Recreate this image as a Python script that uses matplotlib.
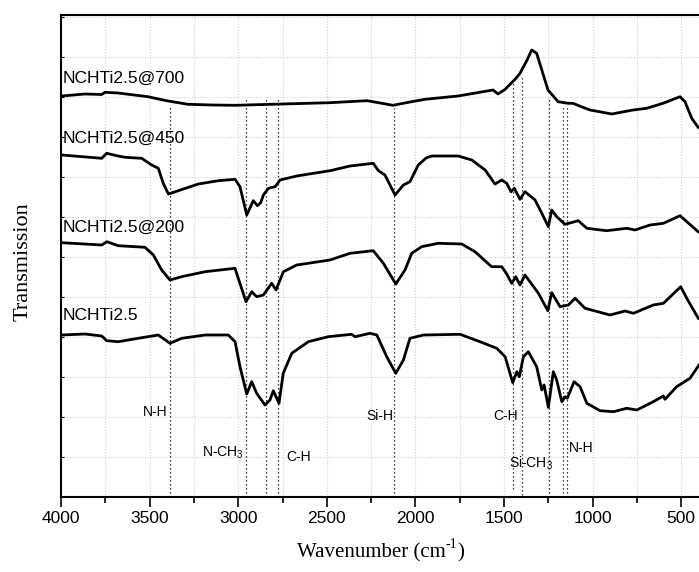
import numpy as np
import matplotlib
matplotlib.use("Agg")
import matplotlib.pyplot as plt
from matplotlib.ticker import MultipleLocator

plt.rcParams['font.family'] = ['Liberation Sans', 'DejaVu Sans']
plt.rcParams['mathtext.fontset'] = 'custom'
plt.rcParams['mathtext.rm'] = 'Liberation Serif'
plt.rcParams['mathtext.sf'] = 'Liberation Sans'

# spectra (wavenumber in cm-1, transmission in arbitrary units)
wn_700 = [3996, 3865, 3770, 3752, 3678, 3509, 3450, 3396, 3283, 3150, 3018, 2482, 2275, 2240, 2127,
          2031, 1946, 1760, 1562, 1534, 1494, 1438, 1410, 1370, 1344, 1316, 1287, 1252, 1195,
          1139, 1111, 1060, 1015, 892, 772, 695, 603, 507, 479, 441, 405]
t_700 = [401, 403, 402.5, 404.7, 404, 400.3, 398, 396, 392.7, 392, 391.7, 394.3, 396.3, 395.3, 391.7,
         395, 397.7, 401, 407, 403, 407.7, 417.7, 423.7, 437, 447, 443.7, 427, 407, 395.3,
         393.7, 393.7, 390, 387, 383, 387, 388.7, 393.7, 400.3, 395.3, 378.7, 369.7]

wn_450 = [3996, 3770, 3742, 3686, 3639, 3545, 3488, 3451, 3423, 3394, 3338, 3225, 3112,
          3018, 2990, 2952, 2915, 2892, 2873, 2858, 2830, 2792, 2764, 2670, 2482, 2369,
          2238, 2209, 2172, 2115, 2068, 2031, 1984, 1940, 1908, 1758, 1682, 1607, 1551, 1513,
          1485, 1461, 1442, 1410, 1382, 1325, 1287, 1250, 1231, 1203, 1156, 1081, 1033,
          921, 808, 761, 676, 601, 507, 405]
t_450 = [342, 338.7, 343.7, 341.3, 339.7, 338.7, 332, 328.7, 313.7, 303, 306.3, 313, 316.3,
         317.7, 310.3, 282, 296.3, 291.3, 294.3, 302, 308.7, 310.3, 317, 321, 326.3, 331,
         333.7, 326.3, 322, 302, 312, 315.3, 332, 339, 341, 341, 337, 327, 313, 317,
         313.7, 305.3, 308.7, 297.7, 305.3, 297, 283.7, 270.3, 287, 280.3, 272.7, 276.3, 268.7,
         266.3, 268.7, 267, 272, 273.7, 281.3, 265.3]

wn_200 = [3996, 3770, 3742, 3677, 3526, 3479, 3432, 3385, 3319, 3187, 3018, 3009, 2956,
          2924, 2896, 2858, 2811, 2787, 2745, 2670, 2482, 2369, 2238, 2181, 2111, 2059,
          2021, 1965, 1871, 1739, 1664, 1570, 1513, 1485, 1457, 1434, 1410, 1382, 1306,
          1253, 1231, 1184, 1137, 1099, 1043, 902, 817, 770, 658, 601, 503, 469, 404]
t_200 = [254.3, 252, 255.3, 251.3, 249.7, 242, 227, 217, 220.3, 225.3, 228.7, 223.7, 195.3,
         205.3, 200.3, 202, 213.7, 207, 225.3, 232, 237, 243.7, 246.3, 233.7, 213, 227,
         243.7, 250.3, 253.7, 253, 245.3, 230.3, 230.3, 223, 213.7, 220.3, 212, 222, 203.7,
         186.3, 204.3, 190.3, 192, 198.7, 188.7, 182, 186, 183.7, 192, 193.7, 210.3, 198.7, 178.7]

wn_raw = [3996, 3865, 3770, 3742, 3677, 3564, 3451, 3385, 3319, 3187, 3056, 3018, 2990,
          2952, 2924, 2896, 2849, 2821, 2802, 2787, 2770, 2746, 2698, 2604, 2492, 2360,
          2341, 2256, 2218, 2162, 2111, 2068, 2031, 1955, 1748, 1636, 1541, 1494, 1451,
          1428, 1414, 1391, 1363, 1316, 1287, 1274, 1250, 1222, 1203, 1174, 1156, 1143,
          1105, 1071, 1033, 958, 883, 808, 751, 658, 601, 592, 526, 451, 400]
t_raw = [162, 163, 161, 156.3, 155.3, 158.7, 162, 153.7, 158.7, 162, 162, 155.3, 130.3,
         103, 115.3, 103.7, 92, 97, 106.3, 100.3, 93.7, 123.7, 143.7, 155.3, 160.3, 162.7,
         160.3, 163.7, 162, 140.3, 123.7, 137, 158.7, 162, 162.7, 155.3, 148.7, 140.3, 114.3,
         125.3, 120.3, 140.3, 145.3, 130.3, 107, 112, 89.7, 125.3, 117, 95.3, 100.3, 98.7,
         115.3, 110.3, 93.7, 86.3, 85.3, 88.7, 87, 95.3, 101, 97.7, 110.3, 118.7, 132]

sample_names = ['NCHTi2.5@700', 'NCHTi2.5@450', 'NCHTi2.5@200', 'NCHTi2.5']
name_y = [419, 359, 270, 182]

# band markers: position, top, bottom
band_wn = [3385, 2958, 2845, 2777, 2121, 1447, 1400, 1244, 1169, 1143]
band_top = [392, 400, 400, 400, 389, 417, 420, 400, 392, 392]
band_bottom = [4, 4, 4, 4, 4, 8, 2, 4, 4, 4]

band_labels = ['N-H', r'N-CH$_\mathsf{3}$', 'C-H', 'Si-H', 'C-H', r'Si-CH$_\mathsf{3}$', 'N-H']
band_label_x = [3470, 3085, 2657, 2200, 1489, 1350, 1066]
band_label_y = [85, 44, 40, 81, 81, 34, 49]

fig = plt.figure(figsize=(6.99, 5.72), dpi=100)
ax = fig.add_axes([61 / 699, 75 / 572, 638 / 699, 482 / 572])

for wn, t in [(wn_700, t_700), (wn_450, t_450), (wn_200, t_200), (wn_raw, t_raw)]:
    ax.plot(wn, t, color='black', lw=2.0, solid_joinstyle='round', zorder=3)

ax.vlines(band_wn, band_bottom, band_top, colors='black', linestyles=(0, (1, 2.2)), lw=0.9, zorder=2)

for name, y in zip(sample_names, name_y):
    ax.text(3993, y, name, fontsize=12.5, ha='left', va='center', zorder=4)

for lab, x, y in zip(band_labels, band_label_x, band_label_y):
    ax.text(x, y, lab, fontsize=10, ha='center', va='center', zorder=4)

ax.set_xlim(4000, 400)
ax.set_ylim(0, 482)
ax.xaxis.set_major_locator(MultipleLocator(500))
ax.xaxis.set_minor_locator(MultipleLocator(250))
ax.yaxis.set_major_locator(MultipleLocator(40))
ax.set_yticklabels([])
ax.tick_params(axis='x', which='major', direction='out', length=7, width=1.2, labelsize=12.5, pad=3)
ax.tick_params(axis='x', which='minor', direction='out', length=4, width=1.2)
ax.tick_params(axis='y', direction='in', length=2.5, width=0.8)
ax.grid(True, which='both', axis='x', color='#d2d2d2', ls=(0, (1, 1.5)), lw=0.8)
ax.grid(True, which='major', axis='y', color='#d2d2d2', ls=(0, (1, 1.5)), lw=0.8)
ax.set_axisbelow(True)

for side in ['left', 'bottom', 'top']:
    ax.spines[side].set_linewidth(1.5)
ax.spines['right'].set_visible(False)

fig.text(23 / 699, 1 - 262 / 572, 'Transmission', rotation=90, ha='center', va='center',
         fontsize=16, family='Liberation Serif')

# x label with a short hyphen in the superscript, built from three pieces
t1 = fig.text(297 / 699, 1 - 553 / 572, 'Wavenumber (cm', ha='left', va='center',
              fontsize=15, family='Liberation Serif')
t2 = ax.annotate('-1', xy=(1.0, 0.92), xycoords=t1, ha='left', va='center',
                 fontsize=10, family='Liberation Serif', annotation_clip=False)
t3 = ax.annotate(')', xy=(1.0, 0.0), xycoords=(t2, t1), ha='left', va='bottom',
                 fontsize=15, family='Liberation Serif', annotation_clip=False)

fig.savefig('out.png', dpi=100)
